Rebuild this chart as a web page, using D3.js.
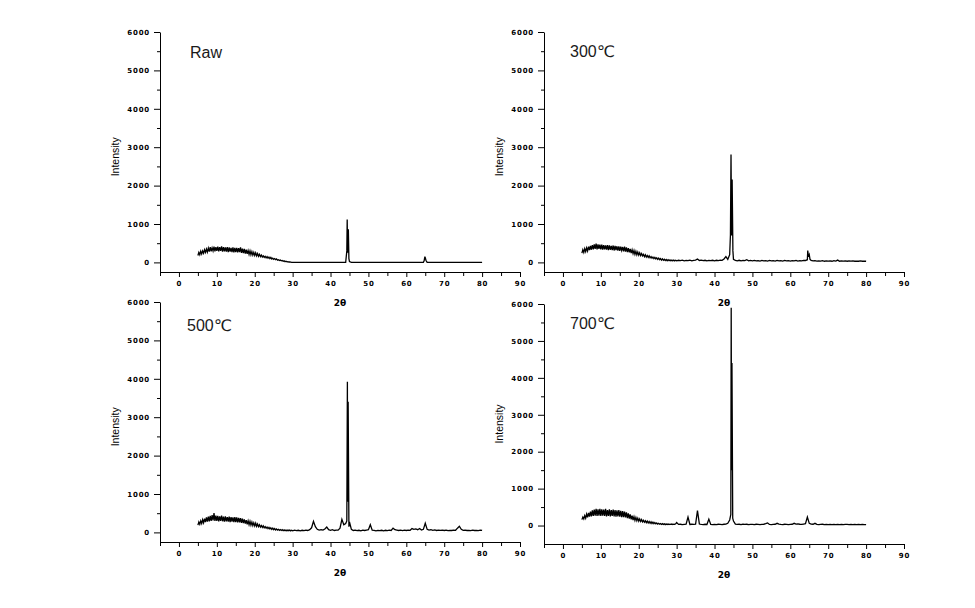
<!DOCTYPE html>
<html>
<head>
<meta charset="utf-8">
<script src="https://cdn.jsdelivr.net/npm/d3@7"></script>
<style>
  body { margin: 0; background: #fff; }
  svg { display: block; }
  .tick text { font-family: "DejaVu Sans", sans-serif; font-weight: bold; font-size: 7px; letter-spacing: 0.8px; fill: #000; }
  .title { font-family: "Liberation Sans", "DejaVu Sans", sans-serif; font-size: 16px; fill: #1a1a1a; }
  .ylabel { font-family: "Liberation Sans", sans-serif; font-size: 10.5px; fill: #000; }
  .xlabel { font-family: "DejaVu Sans", sans-serif; font-weight: bold; font-size: 9px; fill: #000; }
</style>
</head>
<body>
<svg id="chart" width="975" height="608"></svg>
<script>
// 2θ sampling: every 0.25° over the amorphous hump (5..29.75), then every 0.5° to 80
var twoTheta = d3.range(5, 30, 0.25).concat(d3.range(30, 80.001, 0.5));

// intensities on that grid (hump rows = 5° each, tail rows = 5° each)
var rawIntensity = [
  180, 260, 200, 290, 220, 300, 240, 330, 260, 350, 270, 370, 280, 400, 290, 380, 300, 410, 290, 400,
  300, 410, 290, 400, 300, 420, 280, 400, 290, 390, 280, 400, 270, 390, 280, 380, 270, 390, 260, 380,
  270, 380, 260, 370, 270, 390, 250, 360, 240, 350, 230, 330, 220, 310, 210, 300, 200, 280, 190, 260,
  180, 250, 170, 230, 160, 210, 150, 190, 140, 170, 130, 160, 120, 150, 110, 140, 100, 130, 90, 110,
  80, 100, 70, 90, 60, 70, 50, 60, 40, 50, 30, 40, 20, 30, 15, 20, 10, 10, 5, 0,
  0, 0, 0, 0, 0, 0, 0, 0, 0, 0,
  0, 0, 0, 0, 0, 0, 0, 0, 0, 0,
  0, 0, 0, 0, 0, 0, 0, 0, 0, 250,
  20, 0, 0, 0, 0, 0, 0, 0, 0, 0,
  0, 0, 0, 0, 0, 0, 0, 0, 0, 0,
  0, 0, 0, 0, 0, 0, 0, 0, 0, 0,
  0, 0, 0, 0, 0, 0, 0, 0, 0, 0,
  120, 0, 0, 0, 0, 0, 0, 0, 0, 0,
  0, 0, 0, 0, 0, 0, 0, 0, 0, 0,
  0, 0, 0, 0, 0, 0, 0, 0, 0, 0,
  0
];
var c300Intensity = [
  240, 330, 260, 360, 280, 380, 300, 410, 320, 430, 330, 450, 340, 470, 350, 490, 340, 470, 350, 460,
  340, 460, 330, 450, 340, 440, 330, 450, 320, 440, 330, 430, 320, 440, 310, 430, 320, 420, 310, 420,
  300, 410, 310, 400, 290, 410, 280, 390, 270, 370, 260, 350, 240, 330, 230, 310, 210, 290, 200, 270,
  190, 250, 180, 230, 170, 210, 150, 200, 140, 180, 130, 170, 120, 150, 110, 140, 100, 130, 90, 120,
  80, 110, 70, 100, 60, 90, 55, 80, 50, 75, 45, 70, 45, 65, 40, 60, 40, 60, 40, 55,
  40, 55, 45, 60, 40, 50, 45, 60, 40, 55,
  60, 90, 50, 60, 45, 55, 40, 50, 45, 55,
  40, 55, 45, 60, 55, 90, 150, 80, 200, 700,
  80, 50, 40, 55, 40, 50, 45, 70, 40, 50,
  40, 50, 40, 45, 35, 50, 40, 45, 35, 50,
  40, 45, 35, 50, 40, 45, 35, 50, 40, 45,
  35, 45, 40, 50, 35, 45, 40, 50, 50, 70,
  200, 50, 40, 45, 35, 40, 35, 45, 30, 40,
  35, 40, 30, 45, 35, 60, 30, 40, 35, 40,
  30, 40, 35, 40, 30, 35, 30, 40, 30, 35,
  30
];
var c500Intensity = [
  190, 270, 210, 300, 230, 330, 250, 360, 270, 390, 280, 410, 290, 430, 300, 450, 310, 500, 300, 440,
  300, 430, 290, 420, 300, 440, 290, 410, 280, 420, 290, 400, 280, 410, 270, 400, 280, 390, 270, 400,
  270, 390, 260, 380, 260, 370, 250, 360, 240, 340, 230, 320, 210, 300, 200, 290, 190, 270, 180, 250,
  170, 240, 160, 220, 150, 200, 140, 180, 130, 170, 120, 150, 110, 140, 100, 130, 90, 120, 80, 110,
  70, 100, 65, 90, 60, 80, 55, 75, 50, 70, 45, 65, 45, 60, 40, 60, 45, 60, 40, 55,
  40, 60, 45, 55, 40, 55, 45, 60, 50, 70,
  120, 290, 150, 80, 60, 70, 60, 90, 140, 70,
  55, 70, 50, 60, 60, 110, 340, 200, 230, 800,
  270, 80, 50, 60, 45, 55, 40, 60, 50, 60,
  70, 200, 60, 50, 40, 50, 45, 55, 40, 55,
  45, 60, 50, 110, 70, 60, 50, 60, 45, 60,
  50, 60, 55, 100, 80, 90, 70, 100, 60, 80,
  240, 80, 60, 70, 55, 65, 50, 60, 55, 60,
  50, 60, 45, 55, 50, 60, 55, 110, 160, 80,
  55, 60, 50, 55, 45, 60, 50, 55, 45, 60,
  50
];
var c700Intensity = [
  160, 230, 180, 270, 200, 310, 220, 340, 240, 380, 250, 410, 260, 430, 270, 450, 260, 440, 270, 450,
  260, 440, 270, 430, 260, 450, 250, 420, 260, 440, 250, 420, 260, 430, 250, 420, 240, 410, 250, 420,
  240, 400, 230, 390, 230, 380, 220, 360, 200, 330, 190, 300, 170, 270, 150, 240, 140, 220, 130, 200,
  120, 180, 110, 160, 100, 140, 90, 130, 80, 120, 70, 110, 60, 100, 55, 90, 50, 80, 45, 70,
  40, 60, 35, 55, 30, 50, 30, 45, 25, 40, 30, 40, 25, 35, 30, 40, 25, 35, 30, 45,
  80, 30, 35, 25, 30, 35, 230, 30, 35, 30,
  35, 405, 40, 30, 25, 35, 30, 175, 30, 25,
  30, 25, 35, 30, 25, 35, 40, 60, 150, 1500,
  120, 40, 30, 35, 25, 40, 30, 35, 25, 30,
  30, 25, 35, 30, 25, 30, 35, 50, 70, 30,
  25, 30, 35, 60, 40, 30, 25, 35, 30, 25,
  30, 35, 60, 40, 45, 35, 30, 40, 50, 230,
  60, 40, 35, 60, 30, 25, 30, 35, 25, 30,
  25, 30, 25, 30, 25, 30, 25, 30, 25, 30,
  30, 25, 30, 25, 30, 25, 30, 25, 30, 25,
  25
];

// sharp reflections between grid points: [2θ, intensity]
var rawPeaks = [[44.3, 300], [44.4, 1120], [44.7, 860], [44.85, 100], [64.7, 40], [64.9, 150], [65.2, 50]];
var c300Peaks = [[44.2, 720], [44.35, 2810], [44.65, 2160], [44.85, 300], [64.6, 310], [64.8, 150], [65.2, 80]];
var c500Peaks = [[44.3, 300], [44.45, 3920], [44.65, 3400], [44.85, 150]];
var c700Peaks = [[44.3, 300], [44.4, 5900], [44.6, 4400], [44.8, 200]];

var panelTitles = ["Raw", "300℃", "500℃", "700℃"];
var xTicks = [0, 10, 20, 30, 40, 50, 60, 70, 80, 90];
var xMinorTicks = [-5, 5, 15, 25, 35, 45, 55, 65, 75, 85];
var yTicks = [0, 1000, 2000, 3000, 4000, 5000, 6000];
var yMinorTicks = [500, 1500, 2500, 3500, 4500, 5500];

var seriesValues = [rawIntensity, c300Intensity, c500Intensity, c700Intensity];
var seriesPeaks = [rawPeaks, c300Peaks, c500Peaks, c700Peaks];

// panel boxes (pixels) and y floor of each plot
var layout = [
  { left: 160, right: 520, top: 32, bottom: 272, yMin: -250, tx: 190, ty: 58 },
  { left: 544, right: 904, top: 32, bottom: 272, yMin: -250, tx: 570, ty: 57 },
  { left: 160, right: 520, top: 302, bottom: 542, yMin: -250, tx: 187, ty: 331 },
  { left: 544, right: 904, top: 304, bottom: 544, yMin: -500, tx: 570, ty: 329 }
];

var svg = d3.select("#chart");

function buildPoints(values, peaks) {
  var pts = twoTheta.map(function (t, i) { return [t, values[i]]; });
  return pts.concat(peaks).sort(function (a, b) { return a[0] - b[0]; });
}

layout.forEach(function (p, k) {
  var x = d3.scaleLinear().domain([-5, 90]).range([p.left, p.right]);
  var y = d3.scaleLinear().domain([p.yMin, 6000]).range([p.bottom, p.top]);
  var g = svg.append("g");

  // minor ticks first, then main axes on top
  g.append("g")
    .attr("transform", "translate(0," + p.bottom + ")")
    .call(d3.axisBottom(x).tickValues(xMinorTicks).tickSize(4).tickSizeOuter(0).tickFormat(""))
    .call(function (s) { s.select(".domain").remove(); });
  g.append("g")
    .attr("transform", "translate(" + p.left + ",0)")
    .call(d3.axisLeft(y).tickValues(yMinorTicks).tickSize(3).tickSizeOuter(0).tickFormat(""))
    .call(function (s) { s.select(".domain").remove(); });

  g.append("g")
    .attr("transform", "translate(0," + p.bottom + ")")
    .call(d3.axisBottom(x).tickValues(xTicks).tickSize(5).tickSizeOuter(0).tickPadding(4).tickFormat(d3.format("d")));
  g.append("g")
    .attr("transform", "translate(" + p.left + ",0)")
    .call(d3.axisLeft(y).tickValues(yTicks).tickSize(6).tickSizeOuter(0).tickPadding(4).tickFormat(d3.format("d")));

  var line = d3.line()
    .x(function (d) { return x(d[0]); })
    .y(function (d) { return y(d[1]); });

  g.append("path")
    .datum(buildPoints(seriesValues[k], seriesPeaks[k]))
    .attr("fill", "none")
    .attr("stroke", "#000")
    .attr("stroke-width", 1.3)
    .attr("d", line);

  g.append("text")
    .attr("class", "title")
    .attr("x", p.tx)
    .attr("y", p.ty)
    .text(panelTitles[k]);

  g.append("text")
    .attr("class", "ylabel")
    .attr("text-anchor", "middle")
    .attr("transform", "translate(" + (p.left - 45) + "," + y(2750) + ") rotate(-90)")
    .attr("dy", "0.35em")
    .text("Intensity");

  g.append("text")
    .attr("class", "xlabel")
    .attr("text-anchor", "middle")
    .attr("x", x(42.5))
    .attr("y", p.bottom + 34)
    .text("2θ");
});
</script>
</body>
</html>
